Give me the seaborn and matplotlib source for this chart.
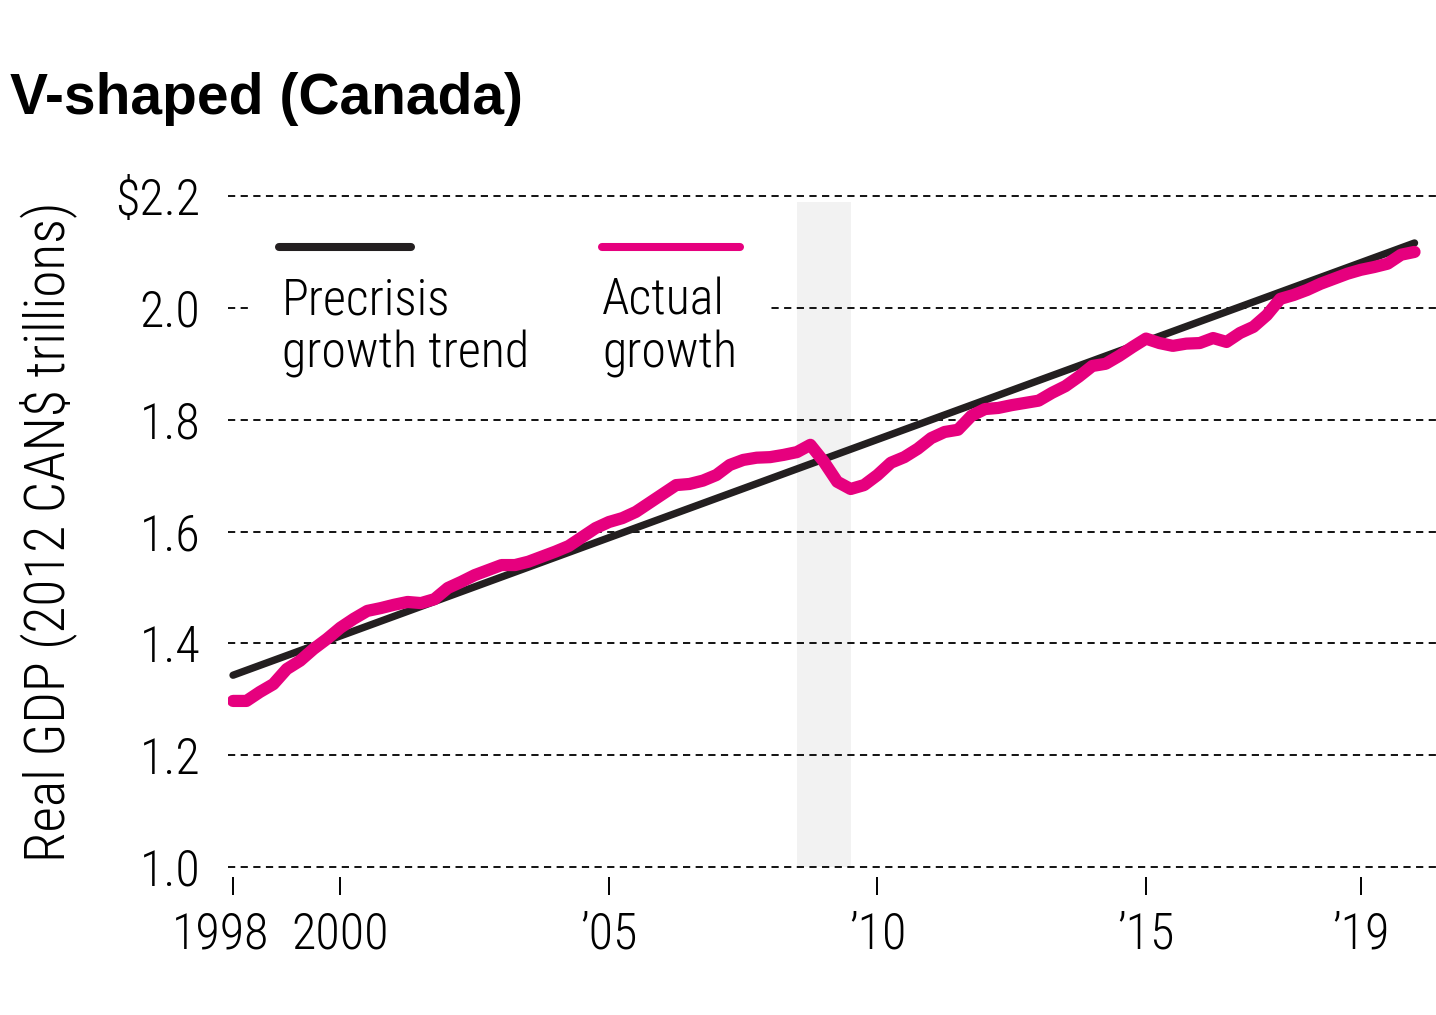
import numpy as np
import matplotlib
matplotlib.use("Agg")
import matplotlib.pyplot as plt
import matplotlib.transforms as mtransforms
import seaborn as sns
from matplotlib.patches import Rectangle

# Real GDP, quarterly from 1998 Q1 (2012 CAN$ trillions)
gdp = [1.297, 1.297, 1.313, 1.327, 1.354, 1.369, 1.390, 1.408, 1.428, 1.444,
       1.458, 1.463, 1.469, 1.474, 1.472, 1.479, 1.499, 1.510, 1.522, 1.531,
       1.540, 1.540, 1.546, 1.555, 1.564, 1.574, 1.590, 1.606, 1.617, 1.624,
       1.635, 1.651, 1.667, 1.683, 1.685, 1.691, 1.701, 1.719, 1.728, 1.732,
       1.733, 1.737, 1.742, 1.755, 1.725, 1.689, 1.676, 1.683, 1.701, 1.723,
       1.733, 1.748, 1.767, 1.778, 1.782, 1.807, 1.819, 1.821, 1.826, 1.830,
       1.834, 1.848, 1.860, 1.877, 1.896, 1.900, 1.914, 1.930, 1.945, 1.937,
       1.932, 1.936, 1.937, 1.946, 1.939, 1.955, 1.966, 1.987, 2.016, 2.023,
       2.032, 2.043, 2.052, 2.061, 2.068, 2.073, 2.079, 2.095, 2.100]
years = 1998 + np.arange(len(gdp)) * 0.25

# precrisis growth trend end points
trend_years = [1998.0, 2020.0]
trend_values = [1.343, 2.116]

recession = (2008.5, 2009.5)

xticks = [1998, 2000, 2005, 2010, 2015, 2019]
xtick_labels = ["1998", "2000", "\u201905", "\u201910", "\u201915", "\u201919"]
yticks = [1.0, 1.2, 1.4, 1.6, 1.8, 2.0, 2.2]
ytick_labels = ["1.0", "1.2", "1.4", "1.6", "1.8", "2.0", "$2.2"]

PINK = "#E6007E"
BLACK = "#231F20"

sns.set_theme(style="white")
plt.rcParams["font.family"] = ["Roboto Condensed", "DejaVu Sans"]
plt.rcParams["font.weight"] = 300

fig = plt.figure(figsize=(14.36, 10.15), dpi=100)
ax = fig.add_axes([0.1588, 0.1403, 0.8412, 0.6721])

# recession shading
ax.fill_between(list(recession), 1.0, 2.19, color="#F2F2F2", lw=0, zorder=0.2)

sns.lineplot(x=trend_years, y=trend_values, ax=ax, color=BLACK,
             solid_capstyle="round", zorder=3)
sns.lineplot(x=years, y=gdp, ax=ax, color=PINK,
             solid_capstyle="round", solid_joinstyle="round", zorder=4)
ax.lines[0].set_linewidth(5.3)
ax.lines[1].set_linewidth(8.8)

ax.set_xlim(1997.907, 2020.40)
ax.set_ylim(0.99, 2.21)

ax.set_yticks(yticks)
ax.set_yticklabels(ytick_labels)
ax.set_xticks(xticks)
ax.set_xticklabels(xtick_labels)

ax.set_axisbelow(True)
ax.grid(axis="y", color="black", lw=1.3, linestyle=(0, (4, 3)))
ax.grid(axis="x", visible=False)

for s in ["top", "right", "left"]:
    ax.spines[s].set_visible(False)
ax.spines["bottom"].set_position(("outward", 3))
ax.spines["bottom"].set_visible(False)

ax.tick_params(axis="x", bottom=True, direction="out", length=13, width=1.4,
               color="black", pad=12, labelsize=36, labelcolor="black")
ax.tick_params(axis="y", left=False, length=0, pad=20, labelsize=36, labelcolor="black")

# nudge the 1998 label left so it clears 2000
first = ax.get_xticklabels()[0]
first.set_transform(first.get_transform() +
                    mtransforms.ScaledTranslation(-12 / 100, 0, fig.dpi_scale_trans))

ax.set_xlabel("")
ax.set_ylabel("Real GDP (2012 CAN$ trillions)", fontsize=40, fontweight=300,
              color="black", va="center")
ax.yaxis.set_label_coords(-0.149, 0.5)

# legend block
ax.add_patch(Rectangle((0.018, 0.69), 0.43, 0.28, transform=ax.transAxes,
                       facecolor="white", edgecolor="none", zorder=1))
ax.plot([0.0422, 0.1515], [0.917, 0.917], transform=ax.transAxes, color=BLACK,
        lw=5.8, solid_capstyle="round", zorder=5)
ax.plot([0.3096, 0.4238], [0.917, 0.917], transform=ax.transAxes, color=PINK,
        lw=5.8, solid_capstyle="round", zorder=5)
for x0, lines in [(0.0447, ["Precrisis", "growth trend"]), (0.3096, ["Actual", "growth"])]:
    for y0, line in zip([0.8174, 0.7397], lines):
        ax.text(x0, y0, line, transform=ax.transAxes, fontsize=36,
                va="baseline", ha="left", color="black", zorder=6)

fig.text(10 / 1436, 1 - 114 / 1015, "V-shaped (Canada)", fontsize=41,
         fontweight="bold", family=["Liberation Sans", "DejaVu Sans"],
         ha="left", va="baseline", color="black")

fig.savefig("out.png", dpi=100)
